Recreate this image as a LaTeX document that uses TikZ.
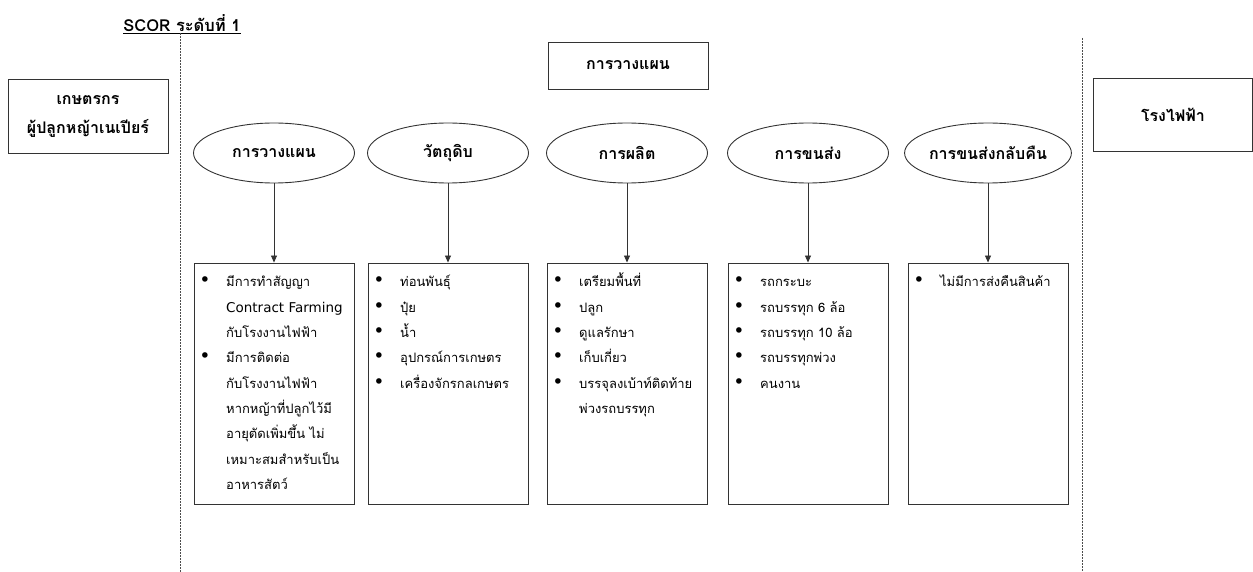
\documentclass[tikz,border=0pt]{standalone}
\usepackage{fontspec}
\usetikzlibrary{shapes.geometric,arrows.meta}
\newfontfamily\thai[Script=Thai]{Loma}
\newfontfamily\dotfont{DejaVu Sans}

\tikzset{
  frame/.style={draw=black!80, line width=0.9pt, inner sep=0pt},
  headbox/.style={frame, rectangle, align=center,
    font=\thai\bfseries\fontsize{16}{29}\selectfont},
  phase/.style={frame, ellipse, minimum width=161pt, minimum height=60pt,
    font=\thai\bfseries\fontsize{16}{19}\selectfont},
  listbox/.style={frame, rectangle, minimum width=160pt, minimum height=241pt},
  itemtext/.style={anchor=base west, inner sep=0pt,
    font=\thai\fontsize{13}{15}\selectfont},
  itembullet/.style={inner sep=0pt, font=\dotfont\fontsize{19}{19}\selectfont},
  flow/.style={draw=black!80, line width=0.8pt,
    -{Triangle[length=7pt,width=6pt]}},
  divider/.style={draw=black!70, line width=0.7pt, dash pattern=on 2pt off 1pt},
}

% one list of items inside a box: prefix, left edge, flag/text pairs
\newcommand\boxitems[3]{%
  \foreach \flag/\words [count=\k] in {#3} {%
    \pgfmathsetmacro\yb{287+25.3*(\k-1)}
    \node[itemtext] (#1-t\k) at (#2+32,\yb) {\words};
    \ifnum\flag=1 \node[itembullet] (#1-d\k) at (#2+11,\yb-5) {•};\fi
  }}

\begin{document}
\begin{tikzpicture}[x=1pt,y=-1pt]
\useasboundingbox (0,0) rectangle (1253,572);

% level title and the two dividers
\node[inner sep=0pt, font=\thai\bfseries\fontsize{16.5}{18}\selectfont]
  (title) at (182,24) {\underline{SCOR ระดับที่ 1}};
\coordinate (lt) at (180,33);  \coordinate (lb) at (180,572);
\coordinate (rt) at (1082,38); \coordinate (rb) at (1082,572);
\draw[divider] (lt) -- (lb);
\draw[divider] (rt) -- (rb);

% actors and overall heading
\node[headbox, minimum width=160pt, minimum height=74pt] (farmer) at (88,116)
  {เกษตรกร\\ผู้ปลูกหญ้าเนเปียร์};
\node[headbox, minimum width=159pt, minimum height=73pt] (plant) at (1173,114.5)
  {โรงไฟฟ้า};
\node[headbox, minimum width=160pt, minimum height=47pt] (plan) at (628,65.5)
  {การวางแผน};

% process phases
\node[phase] (e1) at (274,153) {การวางแผน};
\node[phase] (e2) at (448,153) {วัตถุดิบ};
\node[phase] (e3) at (627,153) {การผลิต};
\node[phase] (e4) at (808,153) {การขนส่ง};
\node[phase] (e5) at (988,153) {การขนส่งกลับคืน};

% detail boxes
\node[listbox] (b1) at (274,383.5) {};
\node[listbox] (b2) at (448,383.5) {};
\node[listbox] (b3) at (627,383.5) {};
\node[listbox] (b4) at (808,383.5) {};
\node[listbox] (b5) at (988,383.5) {};

\foreach \i in {1,...,5} \draw[flow] (e\i) -- (b\i);

\boxitems{b1}{194}{1/มีการทำสัญญา, 0/{\dotfont\fontsize{13.5}{15}\selectfont Contract Farming}, 0/กับโรงงานไฟฟ้า,
  1/มีการติดต่อ, 0/กับโรงงานไฟฟ้า, 0/หากหญ้าที่ปลูกไว้มี,
  0/อายุตัดเพิ่มขึ้น ไม่, 0/เหมาะสมสำหรับเป็น, 0/อาหารสัตว์}
\boxitems{b2}{368}{1/ท่อนพันธุ์, 1/ปุ๋ย, 1/น้ำ, 1/อุปกรณ์การเกษตร, 1/เครื่องจักรกลเกษตร}
\boxitems{b3}{547}{1/เตรียมพื้นที่, 1/ปลูก, 1/ดูแลรักษา, 1/เก็บเกี่ยว,
  1/บรรจุลงเบ้าท์ติดท้าย, 0/พ่วงรถบรรทุก}
\boxitems{b4}{728}{1/รถกระบะ, 1/รถบรรทุก 6 ล้อ, 1/รถบรรทุก 10 ล้อ, 1/รถบรรทุกพ่วง, 1/คนงาน}
\boxitems{b5}{908}{1/ไม่มีการส่งคืนสินค้า}
\end{tikzpicture}
\end{document}
